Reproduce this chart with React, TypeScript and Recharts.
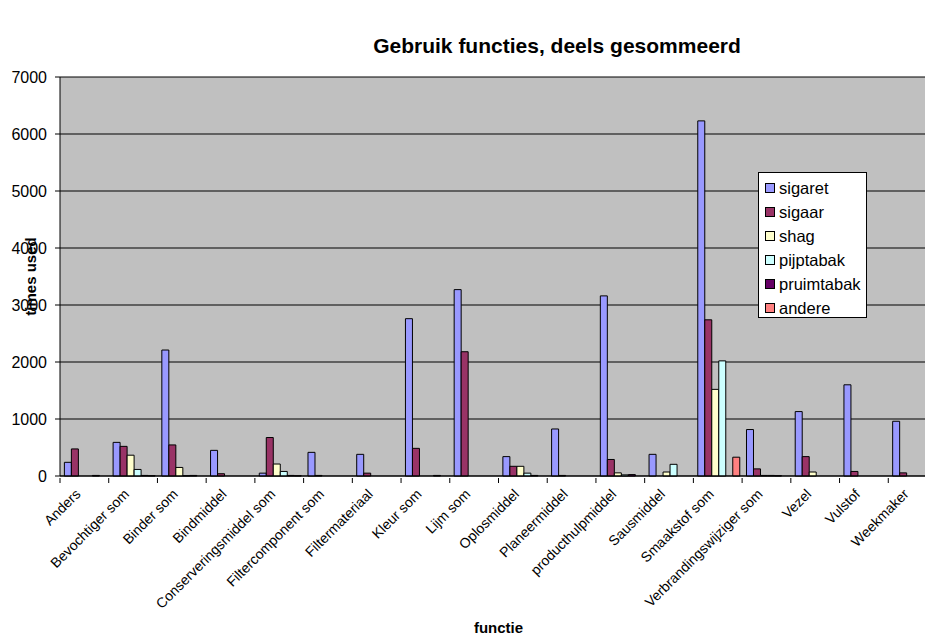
import React from 'react'
import { BarChart, Bar, XAxis, YAxis, CartesianGrid, Legend } from 'recharts'

const functies = [
  'Anders',
  'Bevochtiger som',
  'Binder som',
  'Bindmiddel',
  'Conserveringsmiddel som',
  'Filtercomponent som',
  'Filtermateriaal',
  'Kleur som',
  'Lijm som',
  'Oplosmiddel',
  'Planeermiddel',
  'producthulpmiddel',
  'Sausmiddel',
  'Smaakstof som',
  'Verbrandingswijziger som',
  'Vezel',
  'Vulstof',
  'Weekmaker',
]

const sigaret = [240, 590, 2210, 450, 50, 415, 380, 2760, 3270, 340, 825, 3160, 380, 6230, 815, 1130, 1600, 960]
const sigaar = [475, 520, 545, 40, 675, 10, 50, 485, 2180, 170, 10, 290, 0, 2740, 125, 340, 80, 55]
const shag = [0, 365, 150, 0, 210, 0, 0, 0, 0, 170, 0, 55, 70, 1520, 10, 70, 0, 0]
const pijptabak = [0, 115, 5, 0, 80, 0, 0, 0, 0, 50, 0, 20, 205, 2020, 10, 0, 0, 0]
const pruimtabak = [10, 10, 10, 0, 10, 0, 0, 10, 0, 10, 0, 25, 0, 0, 5, 0, 0, 0]
const andere = [0, 5, 0, 0, 5, 0, 0, 0, 0, 0, 0, 0, 0, 330, 0, 0, 0, 0]

const yTicks = [0, 1000, 2000, 3000, 4000, 5000, 6000, 7000]

const series = [
  { key: 'sigaret', color: '#9999FF', values: sigaret },
  { key: 'sigaar', color: '#993366', values: sigaar },
  { key: 'shag', color: '#FFFFCC', values: shag },
  { key: 'pijptabak', color: '#CCFFFF', values: pijptabak },
  { key: 'pruimtabak', color: '#660066', values: pruimtabak },
  { key: 'andere', color: '#FF8080', values: andere },
]

const data = functies.map((functie, i) => {
  const row: Record<string, string | number> = { functie }
  series.forEach(s => { row[s.key] = s.values[i] })
  return row
})

const FONT = '"Liberation Sans", Arial, sans-serif'
const W = 925
const H = 635
const LEFT = 60
// the plot area runs a little past the right edge of the picture
const RIGHT = -12
const PLOT_W = W - LEFT - RIGHT

// category labels sit under the group, tick marks on the group boundaries
const FunctieTick = (props: any) => {
  const { x, y, payload, index } = props
  const band = PLOT_W / functies.length
  const last = index === functies.length - 1
  const tx = x - 3
  const ty = y + 17
  return (
    <g>
      <line x1={x - band / 2} y1={y} x2={x - band / 2} y2={y + 5} stroke="#000" />
      {last && <line x1={x + band / 2} y1={y} x2={x + band / 2} y2={y + 5} stroke="#000" />}
      <text
        x={tx}
        y={ty}
        transform={`rotate(-45 ${tx} ${ty})`}
        textAnchor="end"
        fontSize={14}
        fontFamily={FONT}
        fill="#000"
      >
        {payload.value}
      </text>
    </g>
  )
}

// axis title centred on the plot height
const YTitle = (props: any) => {
  const { viewBox } = props
  const cx = viewBox.x + 30
  const cy = viewBox.y + viewBox.height / 2
  return (
    <text
      x={cx}
      y={cy}
      transform={`rotate(-90 ${cx} ${cy})`}
      textAnchor="middle"
      dominantBaseline="central"
      fontSize={15}
      fontWeight="bold"
      fontFamily={FONT}
      fill="#000"
    >
      times used
    </text>
  )
}

const LegendBox = () => (
  <div style={{ background: '#fff', border: '1px solid #000', width: 109, height: 146, padding: '3px 0', boxSizing: 'border-box' }}>
    {series.map(s => (
      <div key={s.key} style={{ display: 'flex', alignItems: 'center', height: 24, fontSize: 16.5, fontFamily: FONT, color: '#000' }}>
        <span style={{ width: 8, height: 8, background: s.color, border: '1px solid #000', marginLeft: 6, marginRight: 4, flex: 'none' }} />
        {s.key}
      </div>
    ))}
  </div>
)

export default function App() {
  return (
    <div style={{ position: 'absolute', left: 0, top: 0, width: W, height: H, overflow: 'hidden', background: '#fff', fontFamily: FONT }}>
      <div style={{ position: 'absolute', left: 0, width: W, top: 34, textAlign: 'center', paddingLeft: 189, boxSizing: 'border-box', fontSize: 21, fontWeight: 'bold' }}>
        Gebruik functies, deels gesommeerd
      </div>
      <BarChart
        width={W}
        height={H}
        data={data}
        margin={{ top: 77, right: RIGHT, bottom: 0, left: 0 }}
        barCategoryGap="9%"
        barGap={0}
      >
        <CartesianGrid vertical={false} stroke="#000" fill="#C0C0C0" />
        <XAxis
          dataKey="functie"
          interval={0}
          height={159}
          tickLine={false}
          tickSize={0}
          tick={<FunctieTick />}
          axisLine={{ stroke: '#000' }}
          label={{ value: 'functie', position: 'insideBottom', offset: 2, fontSize: 15, fontWeight: 'bold', fill: '#000', fontFamily: FONT }}
        />
        <YAxis
          width={LEFT}
          domain={[0, 7000]}
          ticks={yTicks}
          interval={0}
          tickSize={5}
          tickMargin={8}
          tickLine={{ stroke: '#000' }}
          axisLine={{ stroke: '#000' }}
          tick={{ fontSize: 16, fill: '#000', fontFamily: FONT }}
          label={<YTitle />}
        />
        <Legend
          layout="vertical"
          align="center"
          verticalAlign="middle"
          content={<LegendBox />}
          wrapperStyle={{ position: 'absolute', left: 758, top: 172, width: 109 }}
        />
        {series.map(s => (
          <Bar key={s.key} dataKey={s.key} fill={s.color} stroke="#000" strokeWidth={1} isAnimationActive={false} />
        ))}
      </BarChart>
    </div>
  )
}
